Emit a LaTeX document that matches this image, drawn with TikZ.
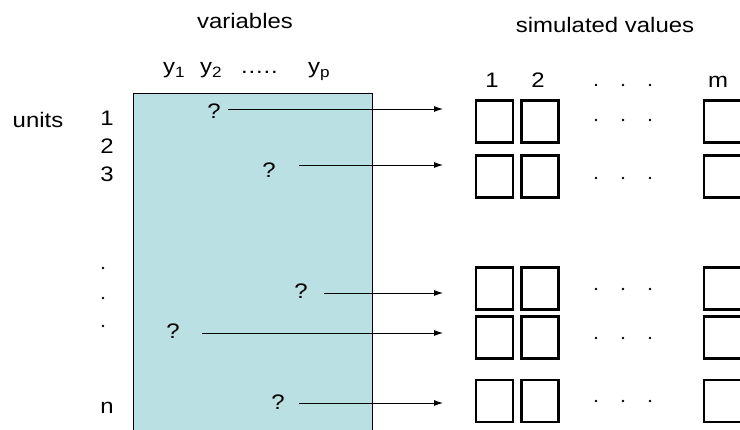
\documentclass[tikz,border=0pt]{standalone}
\usepackage{fontspec}
\setmainfont{Liberation Sans}[FakeStretch=1.14]
\usetikzlibrary{arrows.meta}
\definecolor{panel}{RGB}{187,224,227}
\newcommand{\subsc}[1]{\raisebox{-4pt}{\fontsize{15}{15}\selectfont #1}}
\begin{document}
\begin{tikzpicture}[x=1pt,y=-1pt,
  lbl/.style={inner sep=0pt,font=\fontsize{21}{21}\selectfont},
  qm/.style={inner sep=0pt,font=\fontsize{21}{21}\selectfont},
  cell/.style={draw,line width=2.8pt,minimum width=37pt,minimum height=42pt,inner sep=0pt},
  conn/.style={line width=0.9pt,-{Latex[length=9pt,width=6pt]}},
  dotmark/.style={fill,circle,inner sep=0pt,minimum size=2.6pt}]
\clip (0,0) rectangle (740,429);
\fill[white] (0,0) rectangle (740,429);
% panel
\fill[panel] (133,93) rectangle (372,432);
\draw[line width=1pt] (133,432) -- (133,93) -- (372,93) -- (372,432);
% headers
\node[lbl,anchor=base] (var) at (245,28) {variables};
\node[lbl,anchor=base] (sim) at (605,32) {simulated values};
\node[lbl,anchor=base west] (y1) at (163,73) {y\subsc{1}};
\node[lbl,anchor=base west] (y2) at (200,73) {y\subsc{2}};
\node[lbl,anchor=base west] (ydots) at (241,73) {.\hspace{0.8pt}.\hspace{0.8pt}.\hspace{0.8pt}.\hspace{0.8pt}.};
\node[lbl,anchor=base west] (yp) at (308,73) {y\subsc{p}};
\node[lbl,anchor=base] (c1) at (492,87) {1};
\node[lbl,anchor=base] (c2) at (538,87) {2};
\node[lbl,anchor=base] (cm) at (718,87) {m};
\node[dotmark] (hd1) at (596,85) {};
\node[dotmark] (hd2) at (623,85) {};
\node[dotmark] (hd3) at (650,85) {};
% left labels
\node[lbl,anchor=base] (units) at (38,127) {units};
\node[lbl,anchor=base] (u1) at (107,125) {1};
\node[lbl,anchor=base] (u2) at (107,153) {2};
\node[lbl,anchor=base] (u3) at (107,181) {3};
\node[dotmark] (ud1) at (103,268) {};
\node[dotmark] (ud2) at (103,298) {};
\node[dotmark] (ud3) at (103,326) {};
\node[lbl,anchor=base] (un) at (107,413) {n};
% question marks
\node[qm] (q1) at (214,111) {?};
\node[qm] (q2) at (269,170) {?};
\node[qm] (q3) at (301,291) {?};
\node[qm] (q4) at (173,331) {?};
\node[qm] (q5) at (278,402) {?};
% targets
\coordinate (t1) at (443,109);
\coordinate (t2) at (443,165);
\coordinate (t3) at (443,293);
\coordinate (t4) at (443,333);
\coordinate (t5) at (443,403);
\draw[conn] (228,109) -- (t1);
\draw[conn] (299,165) -- (t2);
\draw[conn] (324,293) -- (t3);
\draw[conn] (202,333) -- (t4);
\draw[conn] (299,403) -- (t5);
% cells
\foreach \r/\yc/\yd in {1/121.5/120, 2/176.5/178, 3/288.5/289, 4/337.5/338, 5/401/401}{
  \node[cell] (a\r) at (494.5,\yc) {};
  \node[cell] (b\r) at (540,\yc) {};
  \node[cell] (m\r) at (722.5,\yc) {};
  \node[dotmark] (d\r a) at (596,\yd) {};
  \node[dotmark] (d\r b) at (623,\yd) {};
  \node[dotmark] (d\r c) at (650,\yd) {};
}
\end{tikzpicture}
\end{document}
